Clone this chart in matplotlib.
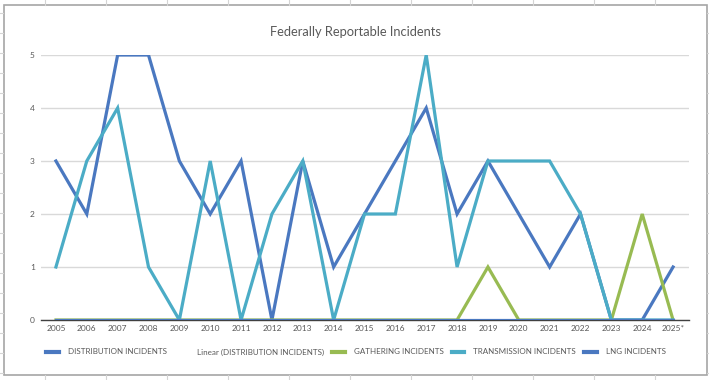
import matplotlib
matplotlib.use("Agg")
import matplotlib.pyplot as plt
from matplotlib.lines import Line2D
from matplotlib.patches import Rectangle

years = ["2005", "2006", "2007", "2008", "2009", "2010", "2011", "2012", "2013", "2014",
         "2015", "2016", "2017", "2018", "2019", "2020", "2021", "2022", "2023", "2024", "2025*"]
distribution = [3, 2, 5, 5, 3, 2, 3, 0, 3, 1, 2, 3, 4, 2, 3, 2, 1, 2, 0, 0, 1]
gathering = [0, 0, 0, 0, 0, 0, 0, 0, 0, 0, 0, 0, 0, 0, 1, 0, 0, 0, 0, 2, 0]
transmission = [1, 3, 4, 1, 0, 3, 0, 2, 3, 0, 2, 2, 5, 1, 3, 3, 3, 2, 0, 0, 0]
lng = [0] * 21
y_ticks = [0, 1, 2, 3, 4, 5]

FONT = ["Lato", "DejaVu Sans"]
plt.rcParams["font.family"] = FONT
TXT = "#595959"
W, H = 709, 380
fig = plt.figure(figsize=(W / 100, H / 100), dpi=100)
fig.patch.set_facecolor("white")

def fx(x): return x / W
def fy(y): return 1 - y / H

# spreadsheet cell grid outside the chart
for x in [45, 106, 167, 228, 289, 350, 411, 472, 533, 594, 655]:
    fig.add_artist(Line2D([fx(x), fx(x)], [fy(0), fy(5)], color="#d4d4d4", lw=0.8))
    fig.add_artist(Line2D([fx(x), fx(x)], [fy(375), fy(380)], color="#d4d4d4", lw=0.8))
for y in range(13, 380, 20):
    fig.add_artist(Line2D([fx(0), fx(3)], [fy(y), fy(y)], color="#d4d4d4", lw=0.8))
    fig.add_artist(Line2D([fx(707), fx(709)], [fy(y), fy(y)], color="#d4d4d4", lw=0.8))

# chart border
fig.add_artist(Rectangle((fx(3.5), fy(375)), fx(707) - fx(3.5), fy(5) - fy(375),
                         fill=False, edgecolor="#a6a6a6", lw=1.2))

ax = fig.add_axes([fx(40.5), fy(320), fx(688.5) - fx(40.5), fy(55) - fy(320)])
x = list(range(len(years)))
lw = 2.3
ax.plot(x, distribution, color="#4a78c0", lw=lw, solid_joinstyle="miter", zorder=3)
ax.plot(x, gathering, color="#98bb52", lw=lw, solid_joinstyle="miter", zorder=3)
ax.plot(x, transmission, color="#4bacc6", lw=lw, solid_joinstyle="miter", zorder=3)
ax.plot(x, lng, color="#4a78c0", lw=lw, solid_joinstyle="miter", zorder=3)

ax.set_xlim(-0.5, len(years) - 0.5)
ax.set_ylim(0, 5)
ax.set_yticks(y_ticks)
ax.set_yticklabels([str(v) for v in y_ticks])
ax.set_xticks(x)
ax.set_xticklabels(years)
ax.tick_params(axis="both", length=0, labelsize=6, colors=TXT)
ax.tick_params(axis="y", pad=4)
ax.tick_params(axis="x", pad=3.5)
ax.grid(axis="y", color="#d9d9d9", lw=1)
ax.set_axisbelow(True)
for s in ["top", "right", "left"]:
    ax.spines[s].set_visible(False)
ax.spines["bottom"].set_color("#404040")
ax.spines["bottom"].set_linewidth(1)

fig.text(fx(356), fy(32), "Federally Reportable Incidents", ha="center", va="center",
         fontsize=9.3, color=TXT)

handles = [
    Line2D([], [], color="#4a78c0", lw=3),
    Line2D([], [], color="none", lw=3),
    Line2D([], [], color="#98bb52", lw=3),
    Line2D([], [], color="#4bacc6", lw=3),
    Line2D([], [], color="#4a78c0", lw=3),
]
labels = ["DISTRIBUTION INCIDENTS", "Linear (DISTRIBUTION INCIDENTS)", "GATHERING INCIDENTS",
          "TRANSMISSION INCIDENTS", "LNG INCIDENTS"]
leg = fig.legend(handles, labels, loc="center", bbox_to_anchor=(fx(356), fy(352)), ncol=5,
                 frameon=False, fontsize=5.8, handlelength=1.6, handletextpad=1.1,
                 columnspacing=1.0, labelcolor=TXT, borderpad=0, borderaxespad=0)

fig.savefig("out.png", dpi=100, facecolor="white")
